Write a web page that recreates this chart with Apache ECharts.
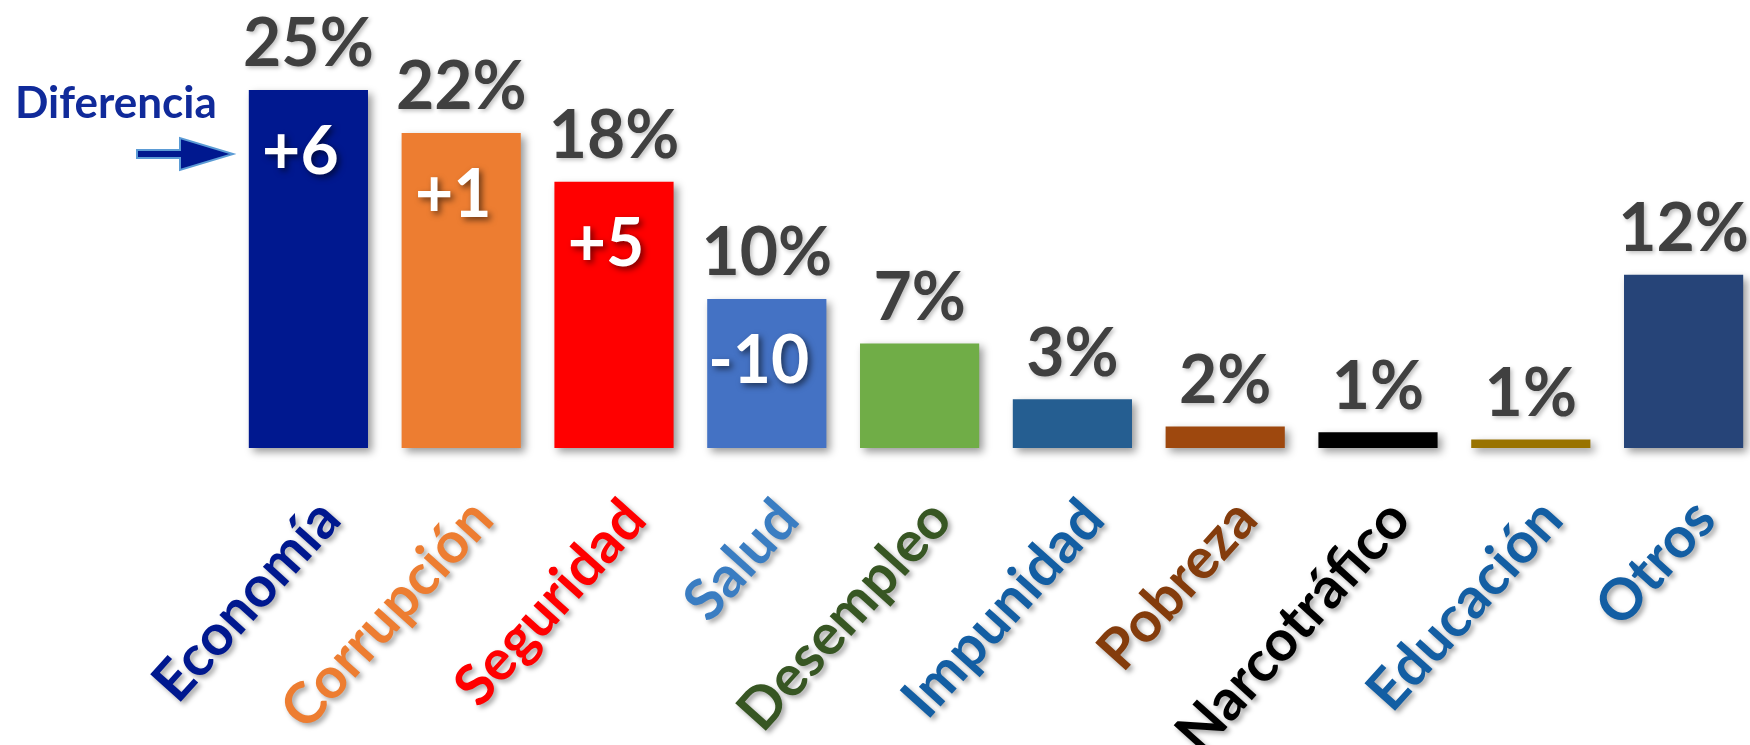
<!DOCTYPE html>
<html>
<head>
<meta charset="utf-8">
<script src="https://cdn.jsdelivr.net/npm/echarts@6/dist/echarts.min.js"></script>
<style>
html,body{margin:0;padding:0;background:#fff;}
#chart{width:1750px;height:745px;}
</style>
</head>
<body>
<div id="chart"></div>
<script>
const categories = ['Economía','Corrupción','Seguridad','Salud','Desempleo','Impunidad','Pobreza','Narcotráfico','Educación','Otros'];
const values = [25, 22, 18.6, 10.4, 7.3, 3.4, 1.5, 1.1, 0.6, 12.1];
const pctLabels = ['25%','22%','18%','10%','7%','3%','2%','1%','1%','12%'];
const diffLabels = ['+6','+1','+5','-10','','','','','',''];
const barColors = ['#00188F','#ED7D31','#FF0000','#4472C4','#70AD47','#255E91','#9E480E','#000000','#997300','#264478'];
const catColors = ['#00188F','#ED7D31','#FF0000','#3A7DC2','#375623','#135EA3','#843C0C','#000000','#135EA3','#135EA3'];

const FONT = 'Lato';
const chart = echarts.init(document.getElementById('chart'), null, {renderer:'canvas'});
const option = {
  animation: false,
  grid: {left: 232, width: 1528, top: 90, bottom: 297, containLabel: false, outerBoundsMode: 'none'},
  xAxis: {
    type: 'category',
    data: categories.map((c, i) => ({value: c, textStyle: {color: catColors[i], align: 'right', verticalAlign: 'top'}})),
    axisLine: {show: false},
    axisTick: {show: false},
    axisLabel: {
      interval: 0,
      rotate: 48,
      margin: 42,
      fontFamily: FONT,
      fontWeight: 'bold',
      fontSize: 57,
      textShadowColor: 'rgba(0,0,0,0.35)',
      textShadowBlur: 5,
      textShadowOffsetX: 3,
      textShadowOffsetY: 3
    }
  },
  yAxis: {type: 'value', min: 0, max: 25, show: false, splitLine: {show: false}},
  series: [
    {
      type: 'bar',
      barCategoryGap: '22%',
      barGap: '-100%',
      data: values.map((v, i) => ({value: v, itemStyle: {color: barColors[i]}})),
      itemStyle: {
        shadowColor: 'rgba(0,0,0,0.4)',
        shadowBlur: 8,
        shadowOffsetX: 4,
        shadowOffsetY: 4
      },
      label: {
        show: true,
        position: 'top',
        distance: 12,
        formatter: p => pctLabels[p.dataIndex],
        color: '#404040',
        fontFamily: FONT,
        fontWeight: 'bold',
        fontSize: 66,
        lineHeight: 66,
        textShadowColor: 'rgba(0,0,0,0.25)',
        textShadowBlur: 4,
        textShadowOffsetX: 2,
        textShadowOffsetY: 2
      }
    },
    {
      type: 'bar',
      barCategoryGap: '22%',
      barGap: '-100%',
      data: values,
      itemStyle: {color: 'rgba(0,0,0,0)'},
      silent: true,
      label: {
        show: true,
        position: 'insideTop',
        distance: 30,
        offset: [-8, 0],
        formatter: p => diffLabels[p.dataIndex],
        color: '#ffffff',
        fontFamily: FONT,
        fontWeight: 'bold',
        fontSize: 66,
        lineHeight: 66,
        textShadowColor: 'rgba(0,0,0,0.55)',
        textShadowBlur: 6,
        textShadowOffsetX: 3,
        textShadowOffsetY: 3
      }
    }
  ],
  graphic: [
    {
      type: 'text',
      left: 15,
      top: 82,
      style: {
        text: 'Diferencia',
        fill: '#102A9A',
        font: 'bold 44px Lato',
        shadowColor: 'rgba(0,0,0,0.3)',
        shadowBlur: 5,
        shadowOffsetX: 3,
        shadowOffsetY: 3
      }
    },
    {
      type: 'polygon',
      shape: {points: [[137,150],[180,150],[180,138],[233,154],[180,170],[180,158],[137,158]]},
      style: {fill: '#00188F', stroke: '#5B9BD5', lineWidth: 2}
    }
  ]
};
chart.setOption(option);
</script>
</body>
</html>
